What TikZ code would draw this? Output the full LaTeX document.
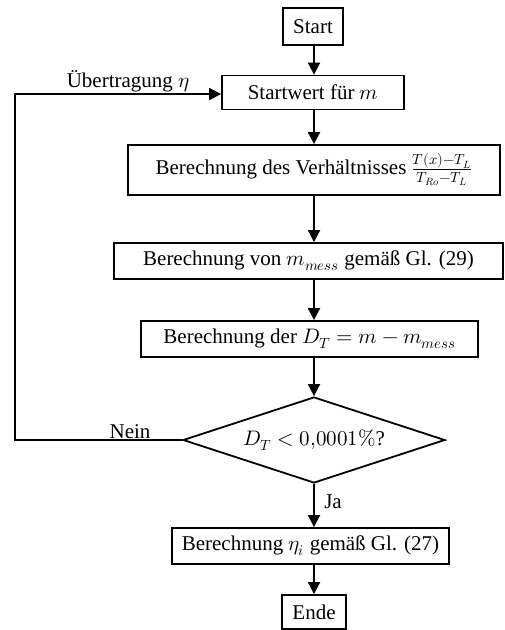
\documentclass[tikz,border=0pt]{standalone}
\usepackage{unicode-math}
\setmainfont{Liberation Serif}
\setmathfont{Latin Modern Math}
\usetikzlibrary{shapes.geometric,arrows.meta}
\tikzset{
  box/.style={draw, line width=1.8pt, inner sep=0pt, align=center},
  arr/.style={line width=1.8pt, -{Triangle[length=12pt,width=12pt]}},
  lbl/.style={inner sep=0pt},
}
\begin{document}
\begin{tikzpicture}[x=1pt,y=-1pt,font=\fontsize{21}{24}\selectfont]
\useasboundingbox (0,0) rectangle (505,630);
\node[box, minimum width=60pt, minimum height=37pt] (start) at (313,26.5) {Start};
\node[box, minimum width=182pt, minimum height=34pt] (sw) at (313,92.5) {Startwert für $m$};
\node[box, minimum width=372pt, minimum height=50pt] (vh) at (314,170) {Berechnung des Verhältnisses $\frac{T(x)-T_L}{T_{Ro}-T_L}$};
\node[box, minimum width=389pt, minimum height=36pt] (mm) at (308.5,261) {Berechnung von $m_{mess}$ gemäß Gl. (29)};
\node[box, minimum width=337pt, minimum height=36pt] (dt) at (309.5,339) {Berechnung der $D_T = m - m_{mess}$};
\node[box, diamond, aspect=3.05, minimum width=262pt, minimum height=86pt] (dia) at (314,440) {$D_T < 0{,}0001\%$?};
\node[box, minimum width=277pt, minimum height=36pt] (eta) at (310.5,546) {Berechnung $\eta_i$ gemäß Gl. (27)};
\node[box, minimum width=64pt, minimum height=34pt] (ende) at (314,612) {Ende};
\coordinate (sp) at (314,0);
\draw[arr] (start.south -| sp) -- (sw.north -| sp);
\draw[arr] (sw.south -| sp) -- (vh.north -| sp);
\draw[arr] (vh.south -| sp) -- (mm.north -| sp);
\draw[arr] (mm.south -| sp) -- (dt.north -| sp);
\draw[arr] (dt.south -| sp) -- (dia.north);
\draw[arr] (dia.south) -- (eta.north -| sp);
\draw[arr] (eta.south -| sp) -- (ende.north);
\coordinate (lb) at (15,440);
\coordinate (lt) at (15,94);
\draw[arr] (dia.west) -- (lb) -- (lt) -- (lt -| sw.west);
\node[lbl] (ueb) at (128,81) {Übertragung $\eta$};
\node[lbl] (nein) at (130,432) {Nein};
\node[lbl] (ja) at (333,502) {Ja};
\end{tikzpicture}
\end{document}
